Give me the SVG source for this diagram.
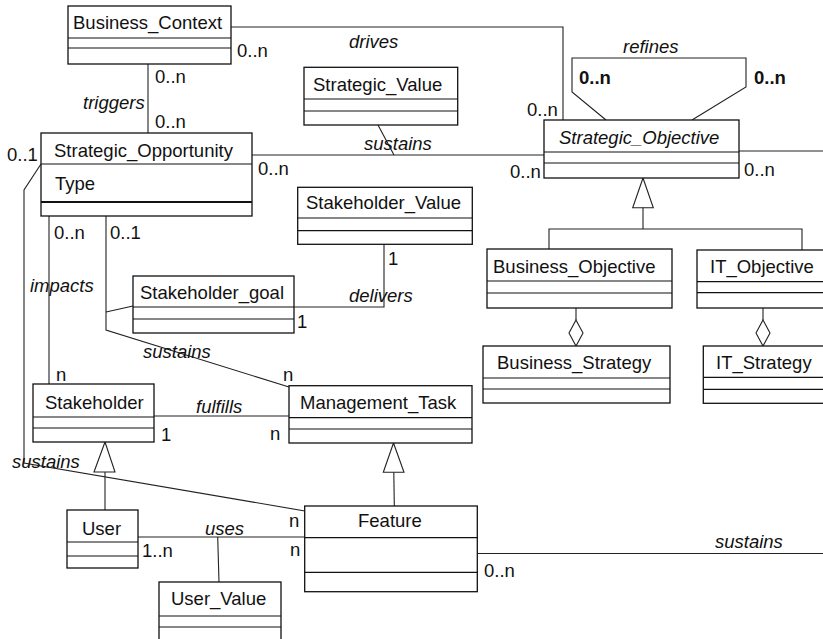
<svg xmlns="http://www.w3.org/2000/svg" width="823" height="639" viewBox="0 0 823 639">
  <style>
    text { font-family: "Liberation Sans", Arial, sans-serif; font-size: 18.5px; fill: #111; }
    .it { font-style: italic; }
    .bold { font-weight: bold; }
    .box { fill: #fff; stroke: #111; stroke-width: 1.3; }
    .div { stroke: #111; stroke-width: 1.2; fill: none; }
    .thick { stroke: #111; stroke-width: 2; fill: none; }
    .conn { stroke: #222; stroke-width: 1.1; fill: none; }
    .tri { fill: #fff; stroke: #222; stroke-width: 1.1; }
  </style>

  <!-- associations, generalizations and aggregations -->
  <g id="connectors">
    <!-- drives: Business_Context to Strategic_Objective -->
    <polyline class="conn" points="231,27 563,27 563,120"/>
    <!-- triggers -->
    <line class="conn" x1="148" y1="64" x2="148" y2="133"/>
    <!-- sustains: Strategic_Opportunity to Strategic_Objective -->
    <line class="conn" x1="252" y1="155" x2="544" y2="155"/>
    <line class="conn" x1="378" y1="125" x2="394" y2="155"/>
    <!-- refines self-association -->
    <polyline class="conn" points="606,120 572,92 572,58 746,58 746,87 692,120"/>
    <!-- Strategic_Objective association to the right -->
    <line class="conn" x1="739" y1="151" x2="823" y2="151"/>
    <!-- generalization of objectives -->
    <polygon class="tri" points="643,178 632.7,207.7 653.3,207.7"/>
    <polyline class="conn" points="643,207.7 643,229"/>
    <polyline class="conn" points="549,249 549,229 802,229 802,250"/>
    <!-- aggregations -->
    <line class="conn" x1="576" y1="308" x2="576" y2="320"/>
    <polygon class="tri" points="576,320 583,333 576,346 569,333"/>
    <line class="conn" x1="763" y1="308" x2="763" y2="320"/>
    <polygon class="tri" points="763,320 770,333 763,346 756,333"/>
    <!-- impacts -->
    <line class="conn" x1="49" y1="216" x2="49" y2="384"/>
    <!-- sustains: Strategic_Opportunity to Management_Task, with Stakeholder_goal -->
    <polyline class="conn" points="106,216 106,330 289,387"/>
    <line class="conn" x1="106" y1="312" x2="133" y2="306"/>
    <!-- delivers -->
    <polyline class="conn" points="294,307 384,307 384,244"/>
    <!-- fulfills -->
    <line class="conn" x1="154" y1="416" x2="289" y2="416"/>
    <!-- sustains: Strategic_Opportunity to Feature -->
    <polyline class="conn" points="41,164 24,190 24,463 305,511"/>
    <!-- Stakeholder generalization -->
    <polygon class="tri" points="105,442 94,472 115,472"/>
    <line class="conn" x1="105" y1="472" x2="105" y2="510"/>
    <!-- Management_Task generalization -->
    <polygon class="tri" points="393.5,443 383.3,472.3 404,472.3"/>
    <line class="conn" x1="393.8" y1="472.3" x2="394.3" y2="506"/>
    <!-- uses -->
    <line class="conn" x1="138" y1="537" x2="305" y2="537"/>
    <line class="conn" x1="217.7" y1="537" x2="219" y2="582"/>
    <!-- Feature sustains -->
    <line class="conn" x1="477" y1="553.5" x2="823" y2="553.5"/>
  </g>

  <g id="Business_Context">
    <rect class="box" x="68" y="6" width="163" height="58"/>
    <line class="div" x1="68" y1="38" x2="231" y2="38"/>
    <line class="div" x1="68" y1="48" x2="231" y2="48"/>
    <text x="73" y="29">Business_Context</text>
  </g>

  <g id="Strategic_Opportunity">
    <rect class="box" x="41" y="133" width="211" height="83"/>
    <line class="div" x1="41" y1="164" x2="252" y2="164"/>
    <line class="thick" x1="41" y1="202" x2="252" y2="202"/>
    <text x="54" y="157">Strategic_Opportunity</text>
    <text x="55" y="190">Type</text>
  </g>

  <g id="Strategic_Value">
    <rect class="box" x="304" y="67.3" width="153.7" height="57.7"/>
    <line class="div" x1="304" y1="99" x2="457.7" y2="99"/>
    <line class="div" x1="304" y1="111" x2="457.7" y2="111"/>
    <text x="313" y="91">Strategic_Value</text>
  </g>

  <g id="Strategic_Objective">
    <rect class="box" x="544" y="120" width="195" height="58"/>
    <line class="div" x1="544" y1="152" x2="739" y2="152"/>
    <line class="div" x1="544" y1="163" x2="739" y2="163"/>
    <text class="it" x="559" y="144">Strategic_Objective</text>
  </g>

  <g id="Stakeholder_Value">
    <rect class="box" x="297.7" y="187.3" width="174.6" height="57"/>
    <line class="div" x1="297.7" y1="218" x2="472.3" y2="218"/>
    <line class="div" x1="297.7" y1="230.7" x2="472.3" y2="230.7"/>
    <text x="306" y="209">Stakeholder_Value</text>
  </g>

  <g id="Stakeholder_goal">
    <rect class="box" x="133" y="276" width="161" height="57"/>
    <line class="div" x1="133" y1="307" x2="294" y2="307"/>
    <line class="div" x1="133" y1="319" x2="294" y2="319"/>
    <text x="140" y="299">Stakeholder_goal</text>
  </g>

  <g id="Business_Objective">
    <rect class="box" x="487" y="249" width="185" height="59"/>
    <line class="div" x1="487" y1="281" x2="672" y2="281"/>
    <line class="div" x1="487" y1="293" x2="672" y2="293"/>
    <text x="493" y="273">Business_Objective</text>
  </g>

  <g id="IT_Objective">
    <rect class="box" x="697" y="250" width="140" height="58"/>
    <line class="div" x1="697" y1="281.7" x2="837" y2="281.7"/>
    <line class="div" x1="697" y1="292.7" x2="837" y2="292.7"/>
    <text x="710" y="273">IT_Objective</text>
  </g>

  <g id="Business_Strategy">
    <rect class="box" x="483" y="346" width="187" height="57"/>
    <line class="div" x1="483" y1="378" x2="670" y2="378"/>
    <line class="div" x1="483" y1="389" x2="670" y2="389"/>
    <text x="497" y="369">Business_Strategy</text>
  </g>

  <g id="IT_Strategy">
    <rect class="box" x="703.3" y="346" width="135" height="57.3"/>
    <line class="div" x1="703.3" y1="377.3" x2="838" y2="377.3"/>
    <line class="div" x1="703.3" y1="389.3" x2="838" y2="389.3"/>
    <text x="716" y="369.3">IT_Strategy</text>
  </g>

  <g id="Stakeholder">
    <rect class="box" x="33" y="384" width="121" height="58"/>
    <line class="div" x1="33" y1="417" x2="154" y2="417"/>
    <line class="div" x1="33" y1="428" x2="154" y2="428"/>
    <text x="45" y="409">Stakeholder</text>
  </g>

  <g id="Management_Task">
    <rect class="box" x="289" y="385.7" width="183" height="57.3"/>
    <line class="div" x1="289" y1="417.7" x2="472" y2="417.7"/>
    <line class="div" x1="289" y1="429" x2="472" y2="429"/>
    <text x="300" y="409.3">Management_Task</text>
  </g>

  <g id="User">
    <rect class="box" x="67" y="510" width="71" height="58"/>
    <line class="div" x1="67" y1="542" x2="138" y2="542"/>
    <line class="div" x1="67" y1="556" x2="138" y2="556"/>
    <text x="82" y="535">User</text>
  </g>

  <g id="Feature">
    <rect class="box" x="304.7" y="506" width="172.6" height="85.7"/>
    <line class="div" x1="304.7" y1="537.7" x2="477.3" y2="537.7"/>
    <line class="div" x1="304.7" y1="572.3" x2="477.3" y2="572.3"/>
    <text x="358" y="527">Feature</text>
  </g>

  <g id="User_Value">
    <rect class="box" x="159" y="582" width="122" height="64"/>
    <line class="div" x1="159" y1="616" x2="281" y2="616"/>
    <line class="div" x1="159" y1="627" x2="281" y2="627"/>
    <text x="171" y="605">User_Value</text>
  </g>

  <!-- association names and multiplicities -->
  <g id="labels">
    <text x="237" y="57">0..n</text>
    <text class="it" x="349" y="48">drives</text>
    <text x="527" y="116">0..n</text>
    <text x="155" y="83">0..n</text>
    <text class="it" x="83" y="109">triggers</text>
    <text x="155" y="128">0..n</text>
    <text x="7" y="161">0..1</text>
    <text x="258" y="175">0..n</text>
    <text class="it" x="364" y="150">sustains</text>
    <text class="it" x="623" y="53">refines</text>
    <text class="bold" x="579" y="84">0..n</text>
    <text class="bold" x="754" y="84">0..n</text>
    <text x="510" y="178">0..n</text>
    <text x="744" y="176">0..n</text>
    <text x="54" y="239">0..n</text>
    <text x="110" y="239">0..1</text>
    <text class="it" x="30" y="292">impacts</text>
    <text x="388" y="265">1</text>
    <text class="it" x="349" y="302">delivers</text>
    <text x="297" y="328">1</text>
    <text class="it" x="143" y="358">sustains</text>
    <text x="56" y="381">n</text>
    <text x="283" y="381">n</text>
    <text class="it" x="196" y="413">fulfills</text>
    <text x="161" y="441">1</text>
    <text x="270" y="440">n</text>
    <text class="it" x="12" y="468">sustains</text>
    <text class="it" x="205" y="535">uses</text>
    <text x="142" y="557">1..n</text>
    <text x="289" y="527">n</text>
    <text x="290" y="556">n</text>
    <text class="it" x="715" y="548">sustains</text>
    <text x="484" y="577">0..n</text>
  </g>
</svg>
